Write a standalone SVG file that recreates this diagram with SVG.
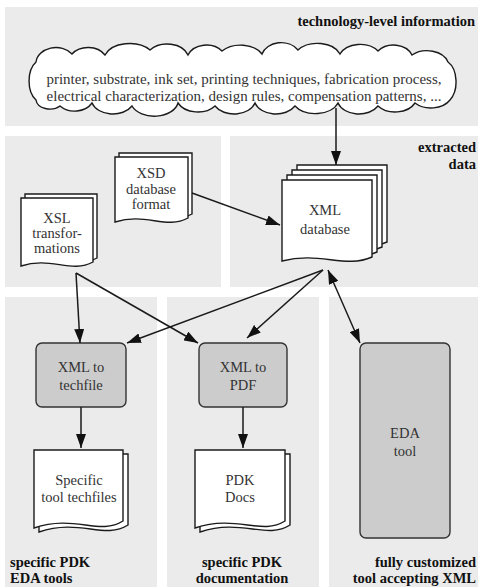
<svg xmlns="http://www.w3.org/2000/svg" width="478" height="587" viewBox="0 0 478 587">
<defs>
<style>
.panel{fill:#ebebeb;stroke:none}
.doc{fill:#ffffff;stroke:#1a1a1a;stroke-width:1.4}
.box{fill:#cccccc;stroke:#333333;stroke-width:1.4}
.t{font-size:14.5px;fill:#333333;text-anchor:middle}
.lbl{font-size:14.5px;font-weight:bold;fill:#111111}
.conn{stroke:#1a1a1a;stroke-width:1.5;fill:none}
</style>
<marker id="ah" viewBox="0 0 14 10" markerWidth="14" markerHeight="10" refX="14" refY="5" orient="auto-start-reverse" markerUnits="userSpaceOnUse">
<path d="M0,0 L14,5 L0,10 z" fill="#111111"/>
</marker>
</defs>
<g id="panels">
<rect class="panel" x="5" y="7" width="473" height="119"/>
<rect class="panel" x="5" y="136" width="216" height="151"/>
<rect class="panel" x="230" y="136" width="248" height="151"/>
<rect class="panel" x="5" y="297" width="152" height="290"/>
<rect class="panel" x="167" y="297" width="152" height="290"/>
<rect class="panel" x="329" y="297" width="149" height="290"/>
</g>
<g font-family="'Liberation Serif', 'DejaVu Serif', serif">
<g id="labels">
<text class="lbl" x="475" y="26" text-anchor="end">technology-level information</text>
<text class="lbl" x="476" y="152" text-anchor="end">extracted</text>
<text class="lbl" x="476" y="169" text-anchor="end">data</text>
<text class="lbl" x="10" y="567">specific PDK</text>
<text class="lbl" x="10" y="583">EDA tools</text>
<text class="lbl" x="242" y="567" text-anchor="middle">specific PDK</text>
<text class="lbl" x="242" y="583" text-anchor="middle">documentation</text>
<text class="lbl" x="476" y="567" text-anchor="end">fully customized</text>
<text class="lbl" x="476" y="583" text-anchor="end">tool accepting XML</text>
</g>
<g id="cloud">
<path class="doc" d="M 36 62 A 20 16 0 0 1 72 54 A 20 16 0 0 1 105 55 A 26 17 0 0 1 150 50 A 22 16 0 0 1 188 55 A 20 16 0 0 1 222 51 A 24 16 0 0 1 262 54 A 20 16 0 0 1 298 50 A 24 16 0 0 1 340 54 A 22 16 0 0 1 378 51 A 20 16 0 0 1 412 55 A 22 16 0 0 1 448 62 A 14 22 0 0 1 450 100 A 22 16 0 0 1 415 103 A 22 16 0 0 1 378 106 A 22 16 0 0 1 338 103 A 24 16 0 0 1 295 106 A 22 16 0 0 1 255 103 A 22 16 0 0 1 215 106 A 22 16 0 0 1 178 103 A 24 16 0 0 1 132 106 A 22 16 0 0 1 92 103 A 20 16 0 0 1 60 106 A 14 10 0 0 1 36 100 A 14 22 0 0 1 36 62 Z"/>
<text class="t" x="244" y="84" style="font-size:15px">printer, substrate, ink set, printing techniques, fabrication process,</text>
<text class="t" x="244" y="101" style="font-size:15px">electrical characterization, design rules, compensation patterns, ...</text>
</g>
<g id="xsd">
<path class="doc" d="M119 153 H192 V214 C170 226 150 208 119 218 Z"/>
<path class="doc" d="M115 157 H188 V218 C166 230 146 212 115 222 Z"/>
<text class="t" x="151" y="178">XSD</text>
<text class="t" x="151" y="194">database</text>
<text class="t" x="151" y="209">format</text>
</g>
<g id="xsl">
<path class="doc" d="M25 194 H97 V258 C75 270 55 252 25 262 Z"/>
<path class="doc" d="M21 198 H93 V262 C71 274 51 256 21 266 Z"/>
<text class="t" x="57" y="223">XSL</text>
<text class="t" x="57" y="238">transfor-</text>
<text class="t" x="57" y="253">mations</text>
</g>
<g id="xmldb">
<path class="doc" d="M297 165 H387 V242 C360 254 335 236 297 246 Z"/>
<path class="doc" d="M292 170 H382 V247 C355 259 330 241 292 251 Z"/>
<path class="doc" d="M287 175 H377 V252 C350 264 325 246 287 256 Z"/>
<path class="doc" d="M282 180 H372 V257 C345 269 320 251 282 261 Z"/>
<text class="t" x="325" y="215">XML</text>
<text class="t" x="325" y="234">database</text>
</g>
<g id="xml2tech">
<rect class="box" x="36" y="343" width="90" height="64" rx="6"/>
<text class="t" x="81" y="372">XML to</text>
<text class="t" x="81" y="390">techfile</text>
</g>
<g id="xml2pdf">
<rect class="box" x="199" y="343" width="88" height="64" rx="6"/>
<text class="t" x="243" y="372">XML to</text>
<text class="t" x="243" y="390">PDF</text>
</g>
<g id="edatool">
<rect class="box" x="360" y="343" width="90" height="195" rx="6"/>
<text class="t" x="405" y="438">EDA</text>
<text class="t" x="405" y="456">tool</text>
</g>
<g id="techfiles">
<path class="doc" d="M39 454 H128 V525 C104 540 80 518 39 532 Z"/>
<path class="doc" d="M34 450 H123 V521 C99 536 75 514 34 528 Z"/>
<text class="t" x="79" y="485">Specific</text>
<text class="t" x="79" y="502">tool techfiles</text>
</g>
<g id="pdkdocs">
<path class="doc" d="M200 454 H290 V525 C266 540 242 518 200 532 Z"/>
<path class="doc" d="M195 450 H285 V521 C261 536 237 514 195 528 Z"/>
<text class="t" x="240" y="485">PDK</text>
<text class="t" x="240" y="502">Docs</text>
</g>
</g>
<g id="connectors">
<line class="conn" x1="336" y1="108" x2="336" y2="165" marker-end="url(#ah)"/>
<line class="conn" x1="192" y1="193" x2="280" y2="225" marker-end="url(#ah)"/>
<line class="conn" x1="76" y1="273" x2="80" y2="343" marker-end="url(#ah)"/>
<line class="conn" x1="76" y1="273" x2="198" y2="343" marker-end="url(#ah)"/>
<line class="conn" x1="323" y1="270" x2="127" y2="343" marker-end="url(#ah)"/>
<line class="conn" x1="323" y1="270" x2="247" y2="338" marker-end="url(#ah)"/>
<line class="conn" x1="328" y1="270" x2="360" y2="343" marker-start="url(#ah)" marker-end="url(#ah)"/>
<line class="conn" x1="81" y1="407" x2="81" y2="448" marker-end="url(#ah)"/>
<line class="conn" x1="243" y1="407" x2="243" y2="448" marker-end="url(#ah)"/>
</g>
</svg>
